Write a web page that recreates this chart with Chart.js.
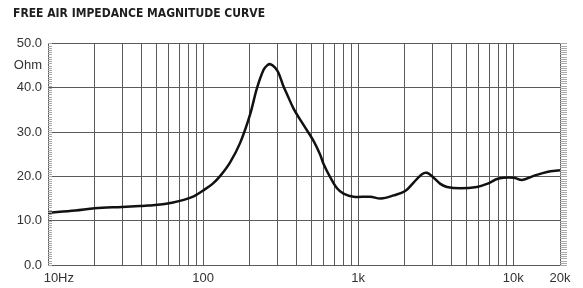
<!DOCTYPE html>
<html>
<head>
<meta charset="utf-8">
<script src="https://cdn.jsdelivr.net/npm/chart.js@4/dist/chart.umd.min.js"></script>
<style>
  html, body { margin: 0; padding: 0; background: #fff; }
  #wrap { width: 583px; height: 288px; }
</style>
</head>
<body>
<div id="wrap"><canvas id="impChart"></canvas></div>
<script>
// Data
const freqs = [10, 15, 20, 30, 39, 44, 55, 64, 75, 87, 100, 115, 129, 149, 173, 201, 222, 245, 260, 272, 290, 306, 328, 347, 383, 444, 515, 567, 598, 660, 730, 804, 933, 1195, 1400, 1692, 2010, 2276, 2576, 2775, 3065, 3384, 3737, 4552, 5830, 6765, 8040, 10040, 11370, 13520, 16480, 20000];
const ohms = [11.8, 12.3, 12.8, 13.1, 13.3, 13.4, 13.7, 14.1, 14.7, 15.5, 16.8, 18.3, 20.1, 23.1, 27.5, 34.0, 39.8, 44.0, 45.1, 45.3, 44.6, 43.4, 40.5, 38.6, 35.3, 31.6, 28.0, 25.0, 22.8, 19.8, 17.3, 16.1, 15.4, 15.4, 15.0, 15.7, 16.7, 18.6, 20.5, 20.8, 19.7, 18.3, 17.6, 17.3, 17.6, 18.3, 19.5, 19.7, 19.2, 20.1, 21.0, 21.4];

const xGridTicks = [10, 20, 30, 40, 50, 60, 70, 80, 90, 100, 200, 300, 400, 500, 600, 700, 800, 900, 1000, 2000, 3000, 4000, 5000, 6000, 7000, 8000, 9000, 10000, 20000];
const xLabels = { 10: "      10Hz", 100: "100", 1000: "1k", 10000: "10k", 20000: "20k" };
const yLabels = { 0: "0.0", 10: "10.0", 20: "20.0", 30: "30.0", 40: "40.0", 45: "Ohm", 50: "50.0" };

const gridColor = "#5a5a5a";

// little tick marks along left and right borders
const minorTicks = {
    id: "minorTicks",
    afterDraw(chart) {
        const ctx = chart.ctx;
        const y = chart.scales.y;
        const area = chart.chartArea;
        ctx.save();
        ctx.strokeStyle = "#a8a8a8";
        ctx.lineWidth = 1;
        ctx.beginPath();
        for (let v = 0; v <= 50; v += 0.5) {
            const py = Math.round(y.getPixelForValue(v)) + 0.5;
            ctx.moveTo(area.left, py);
            ctx.lineTo(area.left + 4, py);
            ctx.moveTo(area.right, py);
            ctx.lineTo(area.right + 7, py);
        }
        ctx.stroke();
        ctx.restore();
    }
};

const points = freqs.map((f, i) => ({ x: f, y: ohms[i] }));

new Chart(document.getElementById("impChart"), {
    type: "line",
    data: {
        datasets: [{
            data: points,
            borderColor: "#111",
            borderWidth: 2.5,
            pointRadius: 0,
            tension: 0.35,
            fill: false
        }]
    },
    options: {
        responsive: true,
        maintainAspectRatio: false,
        animation: false,
        layout: { padding: { left: 13, right: 23, top: 0, bottom: 0 } },
        plugins: {
            legend: { display: false },
            tooltip: { enabled: false },
            title: {
                display: true,
                text: "FREE AIR IMPEDANCE MAGNITUDE CURVE",
                align: "start",
                color: "#1e1e1e",
                font: { family: "'DejaVu Sans Condensed', 'Open Sans', sans-serif", weight: "bold", size: 12 },
                padding: { top: 7, bottom: 22 }
            }
        },
        scales: {
            x: {
                type: "logarithmic",
                min: 10,
                max: 20000,
                afterBuildTicks: (scale) => { scale.ticks = xGridTicks.map(v => ({ value: v })); },
                afterFit: (scale) => { scale.height = 23; },
                border: { display: true, color: gridColor, width: 1 },
                grid: { color: gridColor, lineWidth: 1, drawTicks: false },
                ticks: {
                    autoSkip: false,
                    maxRotation: 0,
                    padding: 6,
                    color: "#333",
                    font: { family: "'Liberation Sans', Arial, sans-serif", size: 13 },
                    callback: (v) => xLabels[v] || ""
                }
            },
            y: {
                min: 0,
                max: 50,
                afterFit: (scale) => { scale.width = 35; },
                border: { display: true, color: gridColor, width: 1 },
                grid: {
                    drawTicks: false,
                    lineWidth: 1,
                    color: (ctx) => (ctx.tick.value % 10 === 0 ? gridColor : "rgba(0,0,0,0)")
                },
                ticks: {
                    stepSize: 5,
                    padding: 6,
                    color: "#333",
                    font: { family: "'Liberation Sans', Arial, sans-serif", size: 13 },
                    callback: (v) => (yLabels[v] !== undefined ? yLabels[v] : "")
                }
            }
        }
    },
    plugins: [minorTicks]
});
</script>
</body>
</html>
